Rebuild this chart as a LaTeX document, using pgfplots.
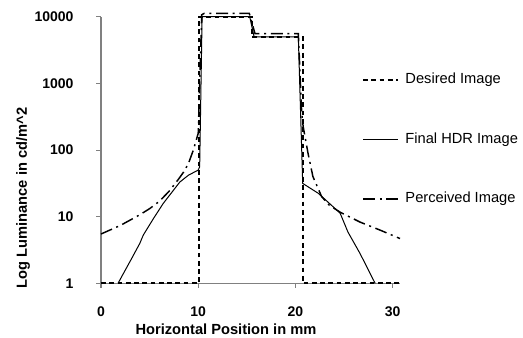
\documentclass[border=0pt]{standalone}
\usepackage{pgfplots}
\pgfplotsset{compat=1.18}
\usepackage{fontspec}
\setmainfont{Liberation Sans}
\begin{document}
\begin{tikzpicture}
\useasboundingbox (-75.75pt,-40.3pt) rectangle (316.5pt,212.5pt);
\begin{axis}[
  scale only axis,
  width=224.25pt, height=199.95pt,
  ymode=log,
  xmin=0, xmax=30.76, ymin=1, ymax=10000,
  enlargelimits=false,
  clip=false,
  axis lines=left,
  axis line style={-, draw=gray, line width=0.8pt},
  tick style={draw=gray, line width=0.8pt},
  tick align=outside,
  major tick length=3.4pt,
  minor tick num=0,
  xtick={0,10,20,30}, xticklabels={0,10,20,30},
  ytick={1,10,100,1000,10000}, yticklabels={1,10,100,1000,10000},
  log basis y=10,
  yminorticks=false,
  ticklabel style={font=\fontsize{10.5}{12}\selectfont\bfseries},
  xticklabel style={anchor=north, inner sep=0pt, yshift=-13.8pt},
  yticklabel style={anchor=east, inner sep=0pt, xshift=-17pt},
  xlabel={Horizontal Position in mm},
  ylabel={Log Luminance in cd/m\^{}2},
  xlabel style={at={(axis description cs:0.418,-0.192)}, anchor=base, font=\fontsize{11}{13}\selectfont\bfseries},
  ylabel style={at={(axis description cs:-0.2475,0.32)}, anchor=base, font=\fontsize{11}{13}\selectfont\bfseries},
  legend image code/.code={\draw[#1] (0pt,0pt) -- (26pt,0pt);},
  legend style={draw=none, fill=none, at={(axis description cs:0.872,0.790)}, anchor=north west,
    inner sep=0pt, row sep=34.1pt,
    font=\fontsize{11}{13}\selectfont,
    nodes={inner sep=0pt, anchor=west, text height=8pt, text depth=2.5pt},
    /tikz/every odd column/.append style={column sep=4.9pt}},
  legend cell align=left,
]
\addplot[black, line width=1.7pt, dash pattern=on 3.6pt off 2.6pt] coordinates {
 (0,1) (10.08,1) (10.08,10000) (15.5,10000) (15.5,5000) (20.75,5000) (20.75,1) (30.76,1)};
\addlegendentry{Desired Image}
\addplot[black, line width=0.75pt] coordinates {
 (1.75,1) (3.16,2.37) (4.0,4.0) (4.35,5.3) (5.4,9.4) (6.4,15.8) (8.1,33) (9.0,42) (10.0,50) (10.15,56)
 (10.4,10000) (15.3,10000) (15.75,5000) (20.3,5000) (20.75,31.6) (22.36,22.4) (24.6,11.3) (25.4,5.9) (26.65,2.8) (28.2,1)};
\addlegendentry{Final HDR Image}
\addplot[black, line width=1.1pt, dash pattern=on 9pt off 3.5pt on 1.5pt off 3.5pt] coordinates {
 (0,5.5) (2,7.4) (4,10.7) (5,13.2) (6,17) (7,24) (8,37) (8.5,46.8) (9,63) (9.5,100) (10,178)
 (10.36,10700) (10.6,11200) (15.26,11200) (15.84,5600) (20.3,5600) (20.65,355) (20.8,224) (21.3,89) (21.8,40)
 (22.7,20) (23.5,14.8) (24.6,11.7) (26.65,8.3) (28.7,6.3) (30.76,4.7)};
\addlegendentry{Perceived Image}
\end{axis}
\end{tikzpicture}
\end{document}
